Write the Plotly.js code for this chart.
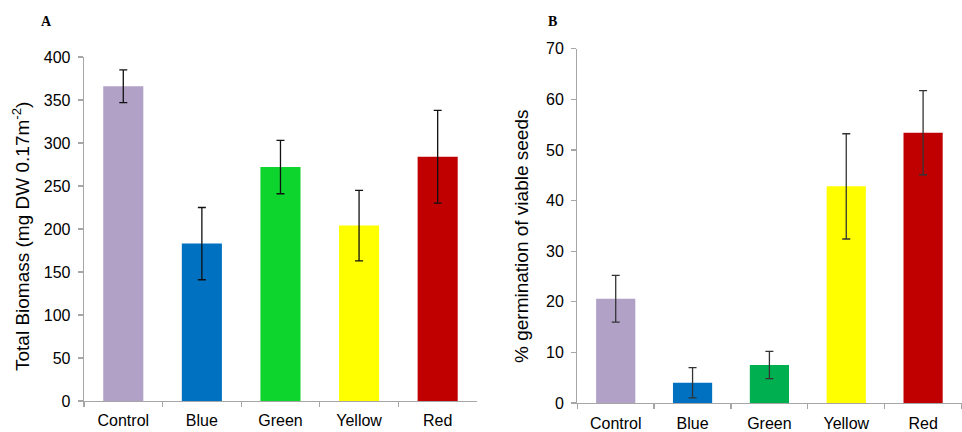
<!DOCTYPE html>
<html>
<head>
<meta charset="utf-8">
<script src="https://cdn.plot.ly/plotly-3.0.1.min.js"></script>
<style>html,body{margin:0;padding:0;background:#fff;}#chart{width:962px;height:432px;}</style>
</head>
<body>
<div id="chart"></div>
<script>
// Data
const categories = ["Control", "Blue", "Green", "Yellow", "Red"];
const biomass = [366, 183, 272, 204, 284];
const biomassErr = [19, 42, 31, 41, 54];
const germination = [20.6, 4.0, 7.5, 42.8, 53.4];
const germinationErr = [4.6, 3.0, 2.7, 10.4, 8.3];
const yTicksA = [0, 50, 100, 150, 200, 250, 300, 350, 400];
const yTicksB = [0, 10, 20, 30, 40, 50, 60, 70];

// Styles
const coloursA = ["#B1A1C7", "#0070C0", "#0ED52E", "#FFFF00", "#C00000"];
const coloursB = ["#B1A1C7", "#0070C0", "#00B050", "#FFFF00", "#C00000"];
const FONT = "Arial, 'Liberation Sans', sans-serif";
const SERIF = "'Times New Roman', 'Liberation Serif', serif";
const axisGrey = "#A6A6A6";

const traces = [
  {
    type: "bar", x: categories, y: biomass, xaxis: "x", yaxis: "y",
    marker: {color: coloursA, line: {width: 0}},
    error_y: {type: "data", array: biomassErr, visible: true, color: "#111", thickness: 1.3, width: 4},
    hoverinfo: "x+y"
  },
  {
    type: "bar", x: categories, y: germination, xaxis: "x2", yaxis: "y2",
    marker: {color: coloursB, line: {width: 0}},
    error_y: {type: "data", array: germinationErr, visible: true, color: "#333", thickness: 1.3, width: 4},
    hoverinfo: "x+y"
  }
];

const xCommon = {
  type: "category", showline: true, linecolor: axisGrey, linewidth: 1.3,
  ticks: "outside", tickson: "boundaries", ticklen: 5, tickcolor: axisGrey, tickwidth: 1.3,
  showgrid: false, zeroline: false, ticklabelstandoff: 5,
  tickfont: {family: FONT, size: 16, color: "#000"}
};
const yCommon = {
  showline: true, linecolor: axisGrey, linewidth: 1.3,
  ticks: "outside", ticklen: 5, tickcolor: axisGrey, tickwidth: 1.3,
  showgrid: false, zeroline: false, tickmode: "array", ticklabelstandoff: 4,
  tickfont: {family: FONT, size: 16, color: "#000"}
};

const layout = {
  width: 962, height: 432,
  margin: {l: 0, r: 0, t: 0, b: 0},
  paper_bgcolor: "#fff", plot_bgcolor: "#fff",
  showlegend: false, bargap: 0.49,
  xaxis: Object.assign({}, xCommon, {domain: [0.0873, 0.4958], anchor: "y"}),
  yaxis: Object.assign({}, yCommon, {domain: [0.0718, 0.868], range: [0, 400], tickvals: yTicksA, anchor: "x"}),
  xaxis2: Object.assign({}, xCommon, {domain: [0.6001, 0.9995], anchor: "y2"}),
  yaxis2: Object.assign({}, yCommon, {domain: [0.0671, 0.8873], range: [0, 70], tickvals: yTicksB, anchor: "x2"}),
  annotations: [
    {text: "<b>A</b>", xref: "paper", yref: "paper", x: 46/962, y: 1 - 21/432, showarrow: false,
     xanchor: "center", yanchor: "middle", font: {family: SERIF, size: 14, color: "#000"}},
    {text: "<b>B</b>", xref: "paper", yref: "paper", x: 552/962, y: 1 - 21/432, showarrow: false,
     xanchor: "center", yanchor: "middle", font: {family: SERIF, size: 14, color: "#000"}},
    {text: "Total Biomass (mg DW 0.17m<sup>-2</sup>)", xref: "paper", yref: "paper", x: 21/962, y: 1 - 237/432,
     showarrow: false, textangle: -90, xanchor: "center", yanchor: "middle", font: {family: FONT, size: 19, color: "#000"}},
    {text: "% germination of viable seeds", xref: "paper", yref: "paper", x: 521/962, y: 1 - 237/432,
     showarrow: false, textangle: -90, xanchor: "center", yanchor: "middle", font: {family: FONT, size: 19, color: "#000"}}
  ]
};

Plotly.newPlot("chart", traces, layout, {displayModeBar: false, staticPlot: true});
</script>
</body>
</html>
